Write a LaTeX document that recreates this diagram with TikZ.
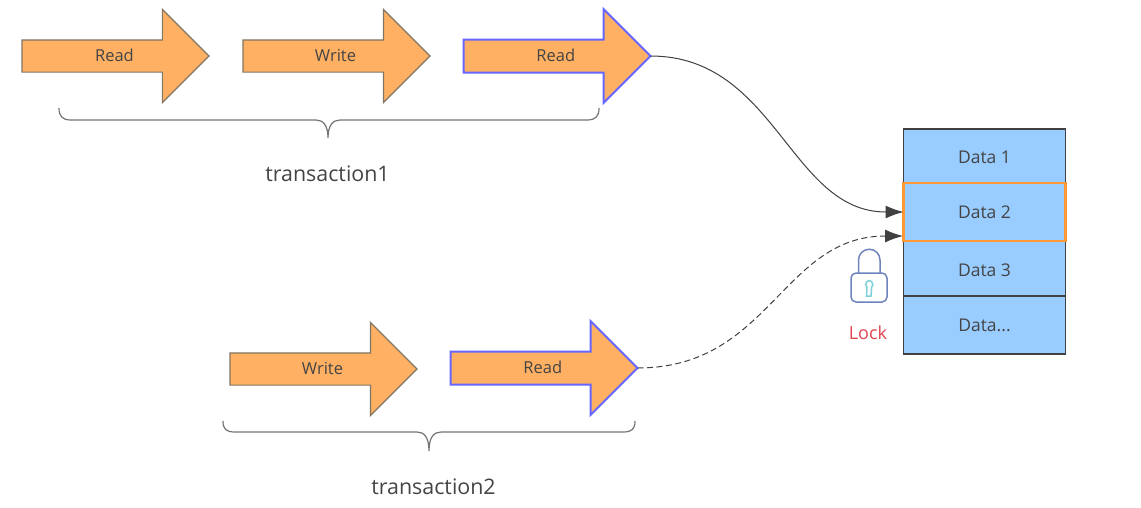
\documentclass[tikz,border=0pt]{standalone}
\usepackage{fontspec}
\setmainfont{Open Sans}
\usetikzlibrary{arrows.meta,shapes.arrows}
\tikzset{
  % panah operasi: baca / tulis
  oparrow/.style={draw=opedge, fill=opfill, single arrow, single arrow head extend=30.5pt,
                  single arrow head indent=0pt, minimum height=187pt, inner ysep=8pt, inner xsep=4pt,
                  text height=13pt, text depth=2pt, outer sep=0pt, anchor=tail, line width=1.2pt,
                  text=inkdark, font=\fontsize{16.5}{18}\selectfont,
                  execute at begin node={\hspace*{14pt}}},
  % panah yang menunggu kunci
  oplast/.style={oparrow, draw=lockblue, line width=2pt, minimum height=187pt},
  % baris data
  datarow/.style={draw=black!75, fill=datafill, minimum width=162pt, outer sep=0pt, line width=1.2pt,
                  text=inkdark, font=\fontsize{17.5}{20}\selectfont},
  % kurung transaksi dan labelnya
  bracket/.style={draw=black!55, line width=1.2pt},
  txlabel/.style={text=inkdark, font=\fontsize{21.4}{24}\selectfont},
  % penghubung ke data
  link/.style={black!75, line width=1pt, -{Latex[length=18pt,width=13pt]}},
}
\definecolor{opfill}{HTML}{FFB062}
\definecolor{opedge}{HTML}{7F7664}
\definecolor{datafill}{HTML}{99CCFF}
\definecolor{lockblue}{HTML}{6666FF}
\definecolor{inkdark}{HTML}{444444}
\definecolor{hilite}{HTML}{FF9933}
\definecolor{padlock}{HTML}{6F84BE}
\definecolor{keyhole}{HTML}{7FD0D8}
\definecolor{locktext}{HTML}{E0454F}

\begin{document}
\begin{tikzpicture}[x=1pt,y=-1pt]

\useasboundingbox (0,0) rectangle (1141,507);

% =================== TRANSACTION 1 ===================
\node[oparrow] (read1) at (22,56) {Read};
\node[oparrow] (write1) at (243,56) {Write};
\node[oplast] (read2) at (463.5,56) {Read};

\draw[bracket] (59,108) .. controls (59,116) and (62,120) .. (71,120) -- (316,120)
  .. controls (323,120) and (328,125) .. (328,138)
  .. controls (328,125) and (333,120) .. (340,120) -- (587,120)
  .. controls (596,120) and (599,116) .. (599,108);
\node[txlabel] (tx1) at (327.5,173.5) {transaction1};

% =================== TRANSACTION 2 ===================
\node[oparrow] (write2) at (230,369) {Write};
\node[oplast] (read3) at (450.5,368) {Read};

\draw[bracket] (223,421) .. controls (223,429) and (226,432) .. (235,432) -- (417,432)
  .. controls (424,432) and (429,437) .. (429,451)
  .. controls (429,437) and (434,432) .. (441,432) -- (623,432)
  .. controls (632,432) and (635,429) .. (635,421);
\node[txlabel] (tx2) at (433.5,486.5) {transaction2};

% =================== DATA ===================
\node[datarow, minimum height=54pt, text height=15.5pt] (data1) at (984.5,156) {Data 1};
\node[datarow, minimum height=55pt, text height=16.5pt] (data3) at (984.5,268.5) {Data 3};
\node[datarow, minimum height=58pt] (data4) at (984.5,325) {Data...};
\node[datarow, minimum height=58pt, draw=hilite, line width=2.4pt] (data2) at (984.5,212) {Data 2};

% =================== RELASI ===================
\coordinate (slot) at (903,236);
\draw[link] (read2.tip) .. controls (776,56) and (790,212) .. (data2.west);
\draw[link, dashed, dash pattern=on 6pt off 3.5pt] (read3.tip) .. controls (770,368) and (782,236) .. (slot);

% =================== KUNCI ===================
\draw[padlock, line width=1.5pt] (858.5,273) -- (858.5,260) arc[start angle=180, end angle=0, radius=10.75pt] -- (880,273);
\draw[padlock, line width=1.5pt, fill=white, rounded corners=5pt] (851,273) rectangle (887,302);
\draw[keyhole, line width=1.5pt] (866.5,296) -- (867,287) arc[start angle=230, end angle=-50, radius=3.6pt] -- (871,296) -- cycle;
\node[text=locktext, font=\fontsize{18}{20}\selectfont] (locklabel) at (868,333) {Lock};

\end{tikzpicture}
\end{document}
